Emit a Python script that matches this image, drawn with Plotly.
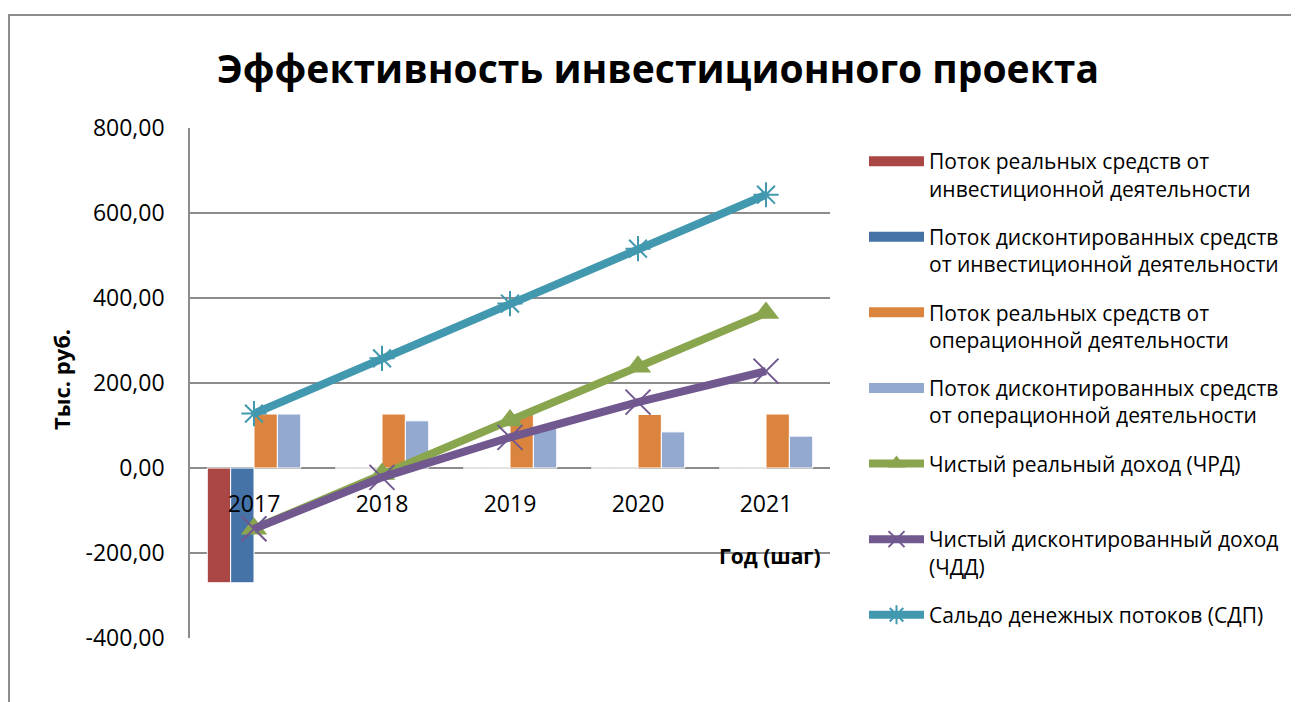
import plotly.graph_objects as go

years = ["2017", "2018", "2019", "2020", "2021"]
inv_real = [-270, 0, 0, 0, 0]
inv_disc = [-270, 0, 0, 0, 0]
op_real = [127, 127, 126, 126, 127]
op_disc = [127, 111, 97, 85, 75]
chrd = [-143, -14, 112, 238, 365]
chdd = [-143, -22, 72, 155, 228]
sdp = [128, 258, 387, 516, 643]

ytick_vals = [-400, -200, 0, 200, 400, 600, 800]
ytick_text = ["-400,00", "-200,00", "0,00", "200,00", "400,00", "600,00", "800,00"]

names = [
    "Поток реальных средств от<br>инвестиционной деятельности",
    "Поток дисконтированных средств<br>от инвестиционной деятельности",
    "Поток реальных средств от<br>операционной деятельности",
    "Поток дисконтированных средств<br>от операционной деятельности",
    "Чистый реальный доход (ЧРД)<br> ",
    "Чистый дисконтированный доход<br>(ЧДД)",
    "Сальдо денежных потоков (СДП)",
]

FONT = "Open Sans"
fig = go.Figure()
bar_colors = ["#AA4643", "#4572A7", "#DB843D", "#93A9CF"]
for i, (vals, col) in enumerate(zip([inv_real, inv_disc, op_real, op_disc], bar_colors)):
    fig.add_trace(go.Bar(x=years, y=vals, name=names[i], marker=dict(color=col, line=dict(color="white", width=1)),
                         legendgroup=f"g{i}", showlegend=False))
    # legend swatch (wide rectangle like the original)
    fig.add_trace(go.Scatter(x=[None], y=[None], name=names[i], mode="lines",
                             line=dict(color=col, width=11), legendgroup=f"g{i}", showlegend=True))

fig.add_trace(go.Scatter(x=years, y=chrd, name=names[4], mode="lines+markers",
                         line=dict(color="#89A54E", width=8),
                         marker=dict(symbol="triangle-up", size=23, color="#89A54E"), legendgroup="g4"))
fig.add_trace(go.Scatter(x=years, y=chdd, name=names[5], mode="lines+markers",
                         line=dict(color="#71588F", width=8),
                         marker=dict(symbol="x-thin-open", size=25, color="#71588F", line=dict(width=2, color="#71588F")),
                         legendgroup="g5"))
fig.add_trace(go.Scatter(x=years, y=sdp, name=names[6], mode="lines+markers",
                         line=dict(color="#4198AF", width=8),
                         marker=dict(symbol="asterisk-open", size=21, color="#4198AF", line=dict(width=2, color="#4198AF")),
                         legendgroup="g6"))

OFF = 8  # page body margin
L, R, T, B = 190, 830, 128, 638
W, H = 1299, 702
def px(xp):
    return (xp - L) / (R - L)
def py(yp):
    return (B - yp) / (B - T)

grid = "#8c8c8c"
fig.update_layout(
    width=W, height=H,
    margin=dict(l=L - OFF, r=W + OFF - R, t=T - OFF, b=H + OFF - B, autoexpand=False),
    paper_bgcolor="white", plot_bgcolor="white",
    font=dict(family=FONT, color="black"),
    barmode="group", bargap=0.27, bargroupgap=0.0,
    showlegend=True,
    legend=dict(x=px(864), y=py(141), xanchor="left", yanchor="top", valign="top",
                font=dict(family=FONT, size=21, color="black"), itemwidth=55,
                tracegroupgap=18, traceorder="grouped", bgcolor="rgba(0,0,0,0)"),
    xaxis=dict(type="category", range=[-0.5, 4.5], anchor="free", position=py(468),
               showgrid=False, showline=False, zeroline=False,
               ticks="outside", ticklen=15, tickcolor="rgba(0,0,0,0)",
               tickfont=dict(family=FONT, size=23, color="black")),
    yaxis=dict(range=[-400, 800], tickvals=ytick_vals, ticktext=ytick_text,
               showgrid=True, gridcolor=grid, gridwidth=1.5,
               zeroline=True, zerolinecolor=grid, zerolinewidth=1.5,
               showline=True, linecolor=grid, linewidth=1.5,
               ticks="", ticklabelstandoff=19,
               tickfont=dict(family=FONT, size=23, color="black")),
    shapes=[dict(type="rect", xref="paper", yref="paper",
                 x0=px(9), x1=px(1330), y0=py(750), y1=py(15),
                 line=dict(color="#8c8c8c", width=2), fillcolor="rgba(0,0,0,0)", layer="below")],
    annotations=[
        dict(text="<b>Эффективность инвестиционного проекта</b>", xref="paper", yref="paper",
             x=px(658), y=py(68), showarrow=False, xanchor="center", yanchor="middle",
             font=dict(family=FONT, size=39, color="black")),
        dict(text="<b>Тыс. руб.</b>", xref="paper", yref="paper", x=px(61), y=py(380),
             textangle=-90, showarrow=False, xanchor="center", yanchor="middle",
             font=dict(family=FONT, size=22, color="black")),
        dict(text="<b>Год (шаг)</b>", xref="paper", yref="paper", x=px(770), y=py(556),
             showarrow=False, xanchor="center", yanchor="middle",
             font=dict(family=FONT, size=21, color="black")),
    ],
)

fig.write_html("out.html")
